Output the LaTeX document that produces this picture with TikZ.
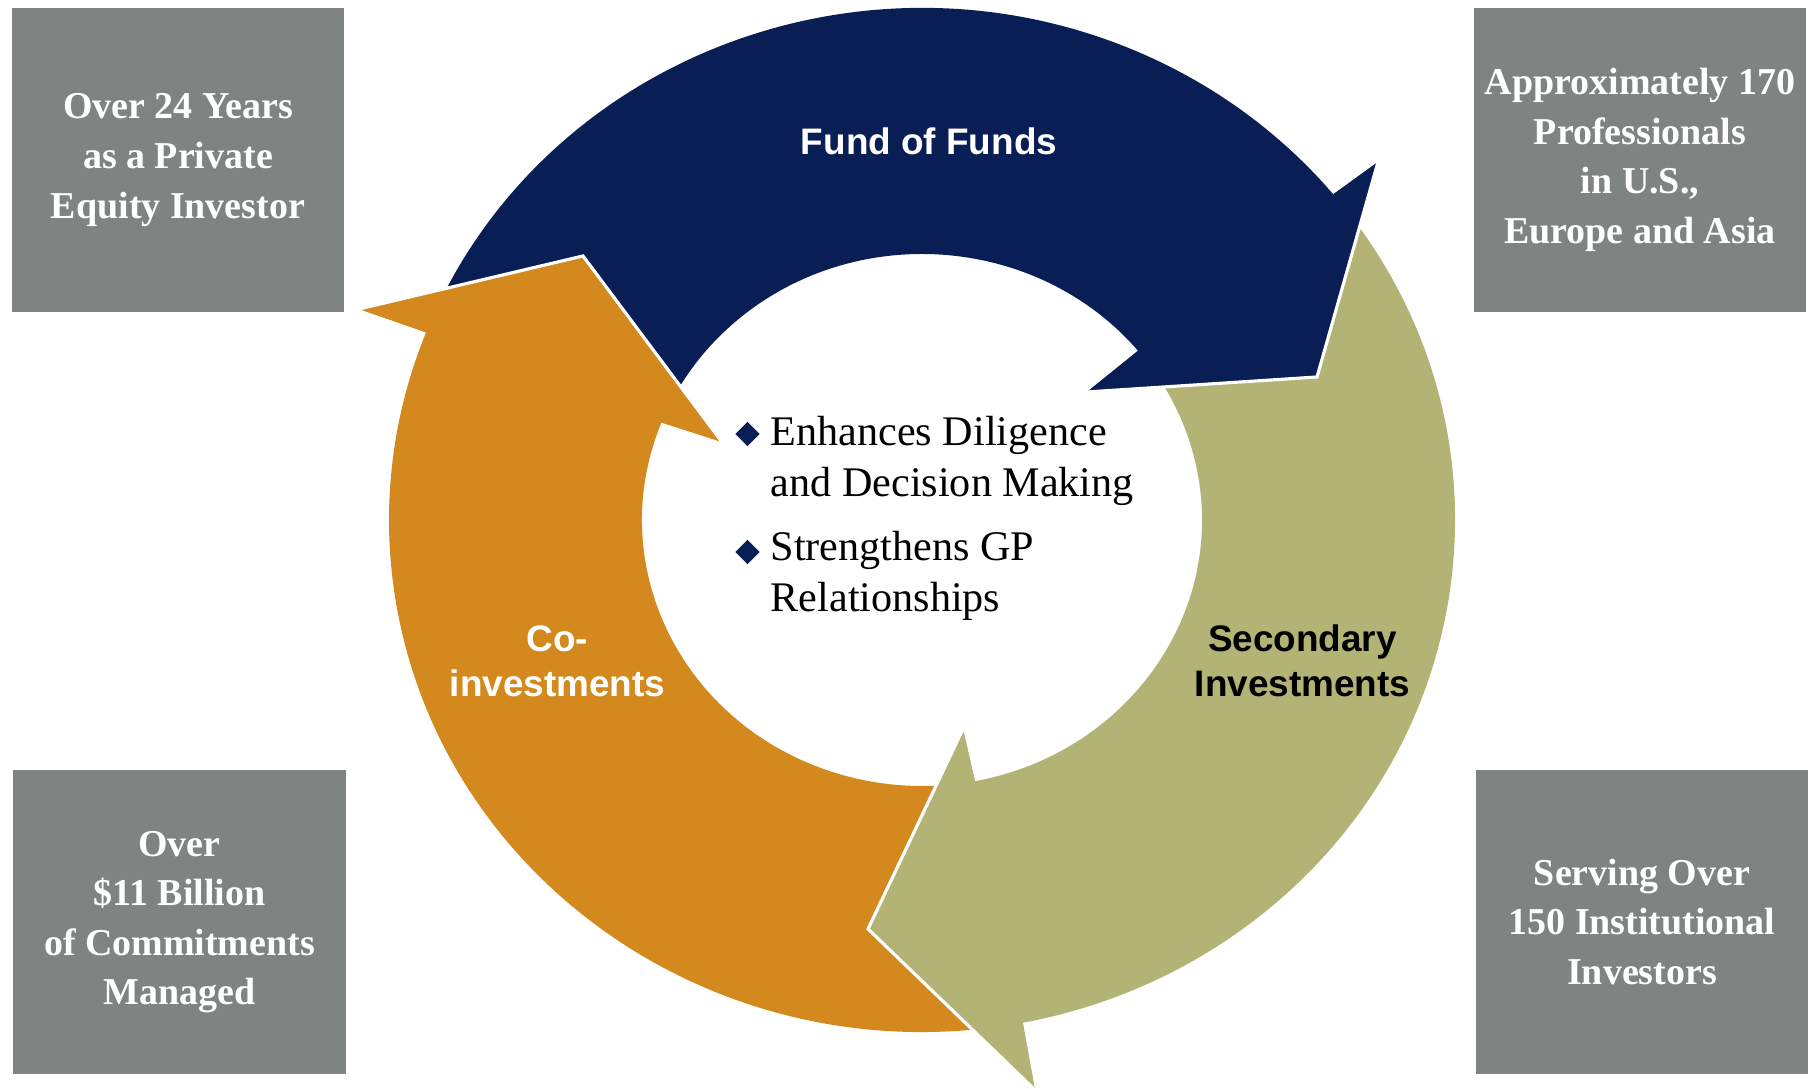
\documentclass[tikz,border=0pt]{standalone}
\usepackage{fontspec}
\setmainfont{Liberation Serif}
\newfontfamily\labelfont{Liberation Sans}
\usetikzlibrary{shapes.geometric}

\definecolor{fofblue}{RGB}{10,30,86}
\definecolor{secolive}{RGB}{179,179,118}
\definecolor{coorange}{RGB}{212,137,30}
\definecolor{boxgray}{RGB}{127,132,131}

\tikzset{
  infobox/.style={fill=boxgray, text=white, minimum width=3.32cm, minimum height=3.04cm,
    align=center, inner sep=0pt, font=\fontsize{10.8}{14.1}\selectfont\bfseries},
  ringlabel/.style={align=center, inner sep=0pt, font=\labelfont\fontsize{10.5}{12.8}\selectfont\bfseries},
  bullettext/.style={align=left, anchor=base west, inner sep=0pt, font=\fontsize{12}{14.7}\selectfont},
  bulletmark/.style={diamond, fill=fofblue, inner sep=0pt, minimum size=2.5mm},
  headline/.style={draw=white, line width=0.9pt, line join=miter},
}

\begin{document}
\begin{tikzpicture}

\fill[white] (0,0) rectangle (18.10,10.89);
\useasboundingbox (0,0) rectangle (18.10,10.89);

% the four grey boxes
\node[infobox] (years) at (1.78,9.29) {Over 24 Years\\as a Private\\Equity Investor};
\node[infobox] (staff) at (16.40,9.29) {Approximately 170\\Professionals\\in U.S.,\\Europe and Asia};
\node[infobox] (capital) at (1.795,1.67) {Over\\\$11 Billion\\of Commitments\\Managed};
\node[infobox] (clients) at (16.42,1.67) {Serving Over\\150 Institutional\\Investors};

% the ring of three arrows, centre at (9.22,5.69)
\begin{scope}[shift={(9.22,5.69)}]
\coordinate (fof out) at (4.56,3.58);
\coordinate (fof tip) at (3.95,1.43);
\coordinate (fof in) at (1.65,1.28);
\coordinate (sec out) at (1.13,-5.70);
\coordinate (sec tip) at (-0.54,-4.09);
\coordinate (sec in) at (0.41,-2.09);
\coordinate (co out) at (-5.63,2.11);
\coordinate (co tip) at (-3.39,2.64);
\coordinate (co in) at (-2.00,0.78);

% Fund of Funds
\fill[fofblue] (155:5.33 and 5.12) arc[start angle=155, end angle=39.5, x radius=5.33, y radius=5.12]
  -- (fof out) -- (fof tip) -- (fof in)
  -- (39.5:2.80 and 2.66) arc[start angle=39.5, end angle=155, x radius=2.80, y radius=2.66] -- cycle;
% Secondary Investments
\fill[secolive] (36:5.33 and 5.12) arc[start angle=36, end angle=-79.1, x radius=5.33, y radius=5.12]
  -- (sec out) -- (sec tip) -- (sec in)
  -- (-79.1:2.80 and 2.66) arc[start angle=-79.1, end angle=36, x radius=2.80, y radius=2.66] -- cycle;
% Co-investments
\fill[coorange] (-82:5.33 and 5.12) arc[start angle=-82, end angle=-201.5, x radius=5.33, y radius=5.12]
  -- (co out) -- (co tip) -- (co in)
  -- (-201.5:2.80 and 2.66) arc[start angle=-201.5, end angle=-82, x radius=2.80, y radius=2.66] -- cycle;

% heads again, on top of the tails
\fill[fofblue] (39.5:5.33 and 5.12) -- (fof out) -- (fof tip) -- (fof in) -- (39.5:2.80 and 2.66) -- cycle;
\draw[headline] (fof out) -- (fof tip) -- (fof in);
\fill[secolive] (-79.1:5.33 and 5.12) -- (sec out) -- (sec tip) -- (sec in) -- (-79.1:2.80 and 2.66) -- cycle;
\draw[headline] (sec out) -- (sec tip) -- (sec in);
\fill[coorange] (-201.5:5.33 and 5.12) -- (co out) -- (co tip) -- (co in) -- (-201.5:2.80 and 2.66) -- cycle;
\draw[headline] (co out) -- (co tip) -- (co in);
\end{scope}

% labels on the arrows
\node[ringlabel, text=white, anchor=base] (fof) at (9.29,9.34) {Fund of Funds};
\node[ringlabel, text=white] (coinv) at (5.575,4.28) {Co-\\investments};
\node[ringlabel, text=black] (secondary) at (13.025,4.28) {Secondary\\Investments};

% bullets in the middle (base = last line)
\node[bulletmark] (mark1) at (7.475,6.55) {};
\node[bullettext] (diligence) at (7.70,5.92) {Enhances Diligence\\and Decision Making};
\node[bulletmark] (mark2) at (7.475,5.37) {};
\node[bullettext] (gp) at (7.70,4.77) {Strengthens GP\\Relationships};

\end{tikzpicture}
\end{document}
